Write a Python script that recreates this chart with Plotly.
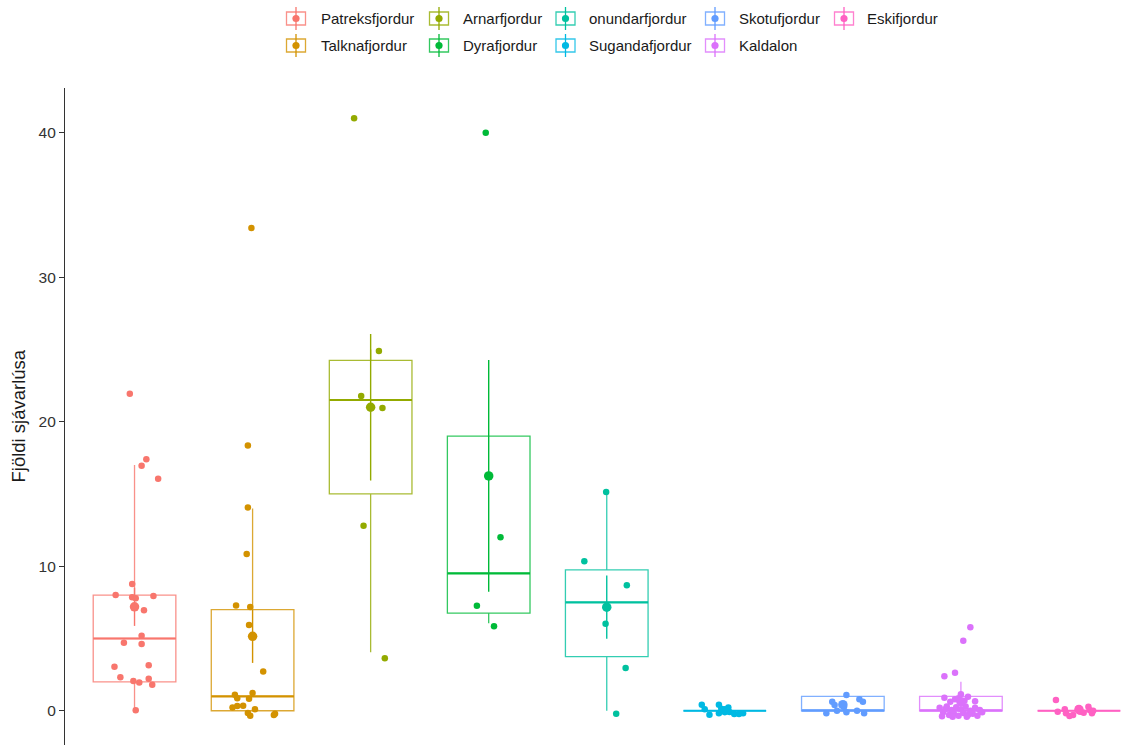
import plotly.graph_objects as go

# Sea-lice counts per fjord: box statistics, mean +/- standard error and jittered observations
fjords = ["Patreksfjordur", "Talknafjordur", "Arnarfjordur", "Dyrafjordur", "onundarfjordur",
          "Sugandafjordur", "Skotufjordur", "Kaldalon", "Eskifjordur"]
colors = ["#F8766D", "#D39200", "#93AA00", "#00BA38", "#00C19F",
          "#00B9E3", "#619CFF", "#DB72FB", "#FF61C3"]

q1 = [2.0, 0.0, 15.0, 6.75, 3.75, 0.0, 0.0, 0.0, 0.0]
median = [5.0, 1.0, 21.5, 9.5, 7.5, 0.0, 0.0, 0.0, 0.0]
q3 = [8.0, 7.0, 24.25, 19.0, 9.75, 0.0, 1.0, 1.0, 0.0]
whisker_lo = [0.0, 0.0, 4.05, 6.05, 0.0, 0.0, 0.0, 0.0, 0.0]
whisker_hi = [17.0, 14.0, 25.0, 19.0, 15.1, 0.0, 1.0, 2.0, 0.0]
mean_lice = [7.19, 5.15, 21.0, 16.25, 7.17, 0.0, 0.42, 0.63, 0.08]
se_lice = [1.32, 1.84, 5.07, 8.02, 2.18, 0.0, 0.15, 0.25, 0.08]

# jittered observations: horizontal offset from the fjord position and plotted count
patreks_dx = [-0.04, 0.10, 0.06, 0.20, -0.02, -0.16, -0.02, 0.01, 0.16, 0.08, 0.06,
              -0.09, 0.06, -0.17, 0.12, -0.12, 0.12, -0.01, 0.15, 0.01, 0.04]
patreks_y = [21.94, 17.40, 16.96, 16.06, 8.77, 8.01, 7.85, 7.78, 7.94, 6.95, 5.19,
             4.71, 4.62, 3.04, 3.14, 2.31, 2.21, 2.06, 1.80, 0.03, 1.95]
talkna_dx = [-0.01, -0.04, -0.04, -0.05, -0.14, -0.02, -0.03, 0.09, -0.15, -0.13,
             0.00, -0.03, -0.17, -0.13, -0.08, -0.04, -0.02, 0.18, 0.19, 0.02]
talkna_y = [33.4, 18.35, 14.07, 10.85, 7.28, 7.18, 5.94, 2.72, 1.10, 0.87,
            1.22, 0.83, 0.23, 0.32, 0.35, -0.16, -0.35, -0.30, -0.21, 0.10]
arnar_dx = [-0.14, 0.07, -0.08, 0.10, -0.06, 0.12]
arnar_y = [41.0, 24.9, 21.77, 20.94, 12.8, 3.63]
dyra_dx = [-0.025, 0.10, -0.10, 0.045]
dyra_y = [40.0, 12.0, 7.27, 5.85]
onundar_dx = [-0.005, -0.19, 0.17, -0.01, 0.16, 0.08]
onundar_y = [15.13, 10.34, 8.68, 6.02, 2.95, -0.20]
sugand_dx = [-0.195, -0.17, -0.13, -0.05, -0.03, -0.05, 0.03, 0.04, 0.08, 0.12, 0.155, 0.0]
sugand_y = [0.42, 0.10, -0.28, 0.42, 0.14, -0.18, 0.23, -0.09, -0.23, -0.23, -0.18, 0.05]
skotu_dx = [0.03, -0.09, -0.07, 0.01, 0.14, 0.17, 0.03, 0.12, -0.14, 0.18, -0.05]
skotu_y = [1.09, 0.62, 0.40, 0.28, 0.79, 0.62, -0.11, 0.0, -0.18, -0.18, 0.0]
kald_dx = [0.08, 0.02, -0.05, -0.14, -0.14, -0.05, -0.02, 0.06, 0.0, 0.03, -0.09, 0.12,
           -0.18, -0.15, -0.12, -0.10, -0.08, -0.06, -0.04, -0.02, 0.0, 0.02, 0.04, 0.06,
           0.08, 0.10, 0.12, 0.14, 0.16, -0.16, 0.18, -0.13, 0.05, -0.07]
kald_y = [5.77, 4.85, 2.63, 2.38, 0.90, 0.79, 0.86, 0.97, 1.15, 0.70, 0.62, 0.66,
          0.20, -0.10, 0.30, -0.30, 0.05, -0.20, 0.25, -0.35, 0.10, -0.15, 0.30, -0.30,
          0.0, -0.20, 0.20, -0.35, 0.05, -0.38, -0.10, 0.12, -0.42, -0.42]
eski_dx = [-0.195, -0.18, -0.12, -0.11, -0.08, -0.05, -0.006, 0.01, 0.04, 0.08, 0.09, 0.11, 0.12]
eski_y = [0.74, -0.07, 0.10, -0.18, -0.37, -0.30, 0.16, -0.07, -0.14, 0.28, 0.05, -0.18, 0.0]

point_dx = [patreks_dx, talkna_dx, arnar_dx, dyra_dx, onundar_dx, sugand_dx, skotu_dx, kald_dx, eski_dx]
point_y = [patreks_y, talkna_y, arnar_y, dyra_y, onundar_y, sugand_y, skotu_y, kald_y, eski_y]

y_ticks = [0, 10, 20, 30, 40]
y_title = "Fjöldi sjávarlúsa"

BOX_W = 0.7
FONT = "Liberation Sans, Arial, sans-serif"
W, H = 1140, 745
ML, MT = 65, 88


def rgba(hex_color, a):
    h = hex_color.lstrip("#")
    return "rgba(%d,%d,%d,%.2f)" % (int(h[0:2], 16), int(h[2:4], 16), int(h[4:6], 16), a)


fig = go.Figure()

for i, (name, col) in enumerate(zip(fjords, colors)):
    pos = i + 1
    fig.add_trace(go.Box(
        x=[pos], q1=[q1[i]], median=[median[i]], q3=[q3[i]],
        lowerfence=[whisker_lo[i]], upperfence=[whisker_hi[i]],
        width=BOX_W, whiskerwidth=0, boxpoints=False,
        line=dict(color=rgba(col, 0.8), width=1.3),
        fillcolor="rgba(255,255,255,0)", name=name, showlegend=False,
        hoverinfo="skip"))
    fig.add_trace(go.Scatter(
        x=[pos - BOX_W / 2, pos + BOX_W / 2], y=[median[i], median[i]],
        mode="lines", line=dict(color=col, width=2.2),
        showlegend=False, hoverinfo="skip"))
    fig.add_trace(go.Scatter(
        x=[pos + d for d in point_dx[i]], y=point_y[i], mode="markers",
        marker=dict(color=col, size=6.5, line=dict(width=0)),
        name=name, showlegend=False))
    fig.add_trace(go.Scatter(
        x=[pos], y=[mean_lice[i]], mode="markers",
        marker=dict(color=col, size=9.5, line=dict(width=0)),
        error_y=dict(type="data", array=[se_lice[i]], color=col, thickness=1.4, width=0),
        showlegend=False, hoverinfo="skip"))

# legend: two rows, five columns, each key shows box + point-range
legend_cols_key = [296, 439, 565.5, 715, 844]
legend_cols_text = [318.5, 460.5, 587, 736.5, 865]
legend_rows = [18.5, 45.5]


def px_to_paper(px, py):
    return (px - ML) / (W - ML), (H - py) / (H - MT)


shapes = []
annotations = []
for i, (name, col) in enumerate(zip(fjords, colors)):
    c, r = i // 2, i % 2
    kx, ky = px_to_paper(legend_cols_key[c], legend_rows[r])
    tx, _ = px_to_paper(legend_cols_text[c], legend_rows[r])
    common = dict(xref="paper", yref="paper", xsizemode="pixel", ysizemode="pixel",
                  xanchor=kx, yanchor=ky)
    shapes.append(dict(type="rect", x0=-9.5, x1=9.5, y0=-6.5, y1=6.5,
                       line=dict(color=rgba(col, 0.8), width=1.3), **common))
    shapes.append(dict(type="line", x0=0, x1=0, y0=-11.5, y1=11.5,
                       line=dict(color=col, width=1.3), **common))
    shapes.append(dict(type="circle", x0=-3.6, x1=3.6, y0=-3.6, y1=3.6,
                       fillcolor=col, line=dict(color=col, width=0), **common))
    annotations.append(dict(text=name, x=tx, y=ky, xref="paper", yref="paper",
                            xanchor="left", yanchor="middle", showarrow=False,
                            font=dict(family=FONT, size=15, color="#1a1a1a")))

tx, ty = px_to_paper(18, 416.5)
annotations.append(dict(text=y_title, x=tx, y=ty, xref="paper", yref="paper",
                        xanchor="center", yanchor="middle", textangle=-90, showarrow=False,
                        font=dict(family=FONT, size=18.5, color="#1a1a1a")))

fig.update_layout(
    width=W, height=H,
    margin=dict(l=ML, r=0, t=MT, b=0, pad=0),
    paper_bgcolor="white", plot_bgcolor="white",
    showlegend=False,
    shapes=shapes, annotations=annotations,
    font=dict(family=FONT),
    xaxis=dict(visible=False, range=[0.411, 9.517], showgrid=False, zeroline=False),
    yaxis=dict(range=[-2.37, 43.09], tickvals=y_ticks, ticktext=[str(t) for t in y_ticks],
               showgrid=False, zeroline=False, showline=True, linecolor="#333333",
               linewidth=1.1, ticks="outside", ticklen=5, tickwidth=1.1,
               tickcolor="#333333", tickfont=dict(family=FONT, size=15.5, color="#333333")),
)

fig.write_html("out.html")
